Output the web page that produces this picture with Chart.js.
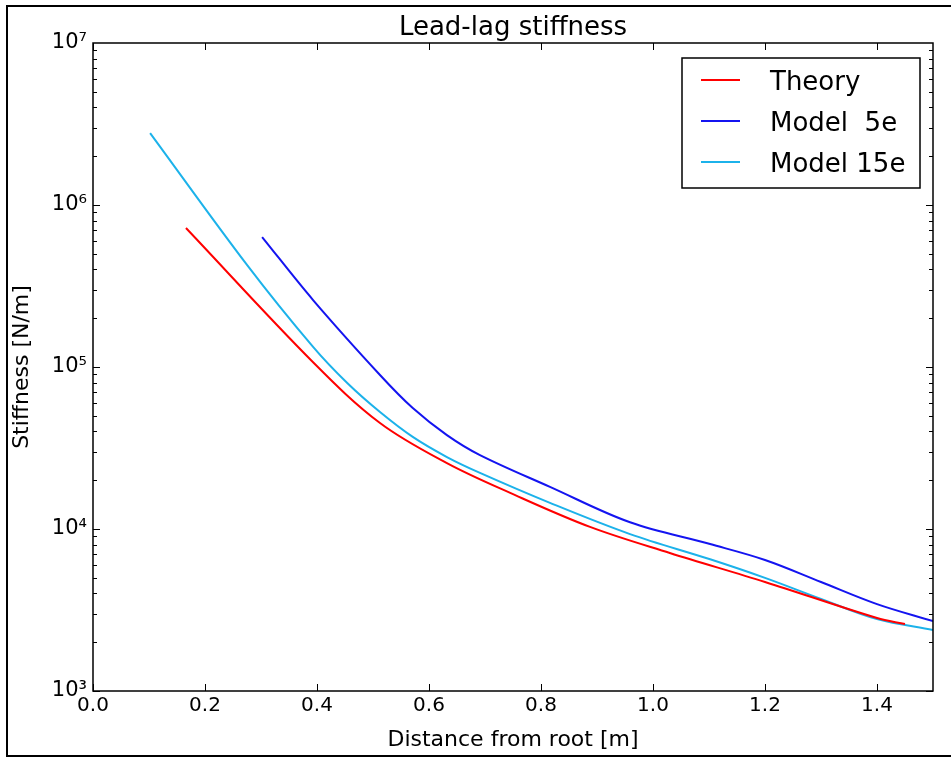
<!DOCTYPE html>
<html>
<head>
<meta charset="utf-8">
<title>Lead-lag stiffness</title>
<script src="https://cdn.jsdelivr.net/npm/chart.js@4.4.0/dist/chart.umd.min.js"></script>
<style>
  body { margin: 0; background: #fff; }
  canvas { display: block; }
</style>
</head>
<body>
<canvas id="myChart" width="951" height="758"></canvas>
<script>
// values (x in m, stiffness in N/m)
const theoryX = [0.166, 0.393, 0.5125, 0.632, 0.745, 0.8875, 1.03, 1.2, 1.4, 1.45]
const theoryY = [7.21e5, 1.07e5, 4.51e4, 2.55e4, 1.67e4, 1.03e4, 7.11e3, 4.71e3, 2.82e3, 2.59e3]

const model5X = [0.302, 0.393, 0.5125, 0.571, 0.632, 0.691, 0.816, 0.959, 1.102, 1.2, 1.3, 1.4, 1.5]
const model5Y = [6.34e5, 2.59e5, 8.93e4, 5.58e4, 3.80e4, 2.86e4, 1.82e4, 1.10e4, 8.07e3, 6.44e3, 4.71e3, 3.44e3, 2.70e3]

const model15X = [0.102, 0.275, 0.393, 0.454, 0.5125, 0.571, 0.632, 0.691, 0.816, 0.959, 1.102, 1.2, 1.3, 1.4, 1.5]
const model15Y = [2.78e6, 4.27e5, 1.33e5, 7.96e4, 5.27e4, 3.70e4, 2.78e4, 2.22e4, 1.45e4, 9.30e3, 6.50e3, 4.99e3, 3.70e3, 2.78e3, 2.38e3]

const xTicks = [0, 0.2, 0.4, 0.6, 0.8, 1.0, 1.2, 1.4]
const yTicks = [1e3, 1e4, 1e5, 1e6, 1e7]
const sup = { 3: '\u00B3', 4: '\u2074', 5: '\u2075', 6: '\u2076', 7: '\u2077' }

const FONT = "'DejaVu Sans', sans-serif"

function pts(xs, ys) {
    return xs.map(function (x, i) { return { x: x, y: ys[i] } })
}

function series(label, color, xs, ys) {
    return {
        label: label,
        data: pts(xs, ys),
        borderColor: color,
        backgroundColor: color,
        borderWidth: 2,
        pointRadius: 0,
        fill: false,
        tension: 0.35
    }
}

// frame, inward ticks, title, legend and outer border
const decor = {
    id: 'decor',
    afterDraw: function (chart) {
        const ctx = chart.ctx
        const a = chart.chartArea
        const xs = chart.scales.x
        const ys = chart.scales.y
        ctx.save()
        ctx.strokeStyle = '#000'

        // outer figure border
        ctx.lineWidth = 2
        ctx.beginPath()
        ctx.moveTo(960, 6)
        ctx.lineTo(7, 6)
        ctx.lineTo(7, 756)
        ctx.lineTo(960, 756)
        ctx.stroke()

        // ticks
        ctx.lineWidth = 1
        ctx.beginPath()
        xTicks.forEach(function (v) {
            const px = Math.round(xs.getPixelForValue(v)) + 0.5
            ctx.moveTo(px, a.bottom); ctx.lineTo(px, a.bottom - 7)
            ctx.moveTo(px, a.top); ctx.lineTo(px, a.top + 7)
        })
        for (let d = 3; d < 7; d++) {
            for (let m = 1; m < 10; m++) {
                const py = Math.round(ys.getPixelForValue(m * Math.pow(10, d))) + 0.5
                const len = m === 1 ? 7 : 4
                ctx.moveTo(a.left, py); ctx.lineTo(a.left + len, py)
                ctx.moveTo(a.right, py); ctx.lineTo(a.right - len, py)
            }
        }
        ctx.stroke()

        // axes frame
        ctx.lineWidth = 1.5
        ctx.strokeRect(a.left, a.top, a.right - a.left, a.bottom - a.top)

        // title
        ctx.fillStyle = '#000'
        ctx.font = '26px ' + FONT
        ctx.textAlign = 'center'
        ctx.textBaseline = 'alphabetic'
        ctx.fillText('Lead-lag stiffness', (a.left + a.right) / 2, 35)

        // legend
        const lx = 682, ly = 58, lw = 238, lh = 130
        ctx.fillStyle = '#fff'
        ctx.fillRect(lx, ly, lw, lh)
        ctx.lineWidth = 1.5
        ctx.strokeRect(lx, ly, lw, lh)
        ctx.font = '26px ' + FONT
        ctx.textAlign = 'left'
        chart.data.datasets.forEach(function (ds, i) {
            const y = 80 + i * 41
            ctx.strokeStyle = ds.borderColor
            ctx.lineWidth = 2
            ctx.beginPath()
            ctx.moveTo(701, y); ctx.lineTo(740, y)
            ctx.stroke()
            ctx.fillStyle = '#000'
            ctx.fillText(ds.label, 770, y + 10)
        })
        ctx.restore()
    }
}

const ctx = document.getElementById('myChart').getContext('2d')
const chart = new Chart(ctx, {
    type: 'line',
    data: {
        datasets: [
            series('Theory', '#ff0000', theoryX, theoryY),
            series('Model  5e', '#1414f0', model5X, model5Y),
            series('Model 15e', '#1cb2ea', model15X, model15Y)
        ]
    },
    options: {
        responsive: false,
        animation: false,
        layout: { padding: { left: 0, top: 43, right: 18, bottom: 0 } },
        plugins: {
            legend: { display: false },
            title: { display: false },
            tooltip: { enabled: false }
        },
        scales: {
            x: {
                type: 'linear',
                min: 0,
                max: 1.5,
                afterBuildTicks: function (scale) {
                    scale.ticks = xTicks.map(function (v) { return { value: v } })
                },
                afterFit: function (scale) { scale.height = 67 },
                grid: { display: false, drawTicks: false },
                border: { display: false },
                ticks: {
                    padding: 3,
                    color: '#000',
                    font: { family: FONT, size: 20 },
                    maxRotation: 0,
                    callback: function (v) { return Number(v).toFixed(1) }
                },
                title: {
                    display: true,
                    text: 'Distance from root [m]',
                    color: '#000',
                    font: { family: FONT, size: 22 },
                    padding: { top: 0, bottom: 5 }
                }
            },
            y: {
                type: 'logarithmic',
                min: 1e3,
                max: 1e7,
                afterBuildTicks: function (scale) {
                    scale.ticks = yTicks.map(function (v) { return { value: v } })
                },
                afterFit: function (scale) { scale.width = 93 },
                grid: { display: false, drawTicks: false },
                border: { display: false },
                ticks: {
                    padding: 6,
                    color: '#000',
                    font: { family: FONT, size: 21 },
                    callback: function (v) { return '10' + sup[Math.round(Math.log10(v))] }
                },
                title: {
                    display: true,
                    text: 'Stiffness [N/m]',
                    color: '#000',
                    font: { family: FONT, size: 22 },
                    padding: { top: 9, bottom: 0 }
                }
            }
        }
    },
    plugins: [decor]
})
</script>
</body>
</html>
